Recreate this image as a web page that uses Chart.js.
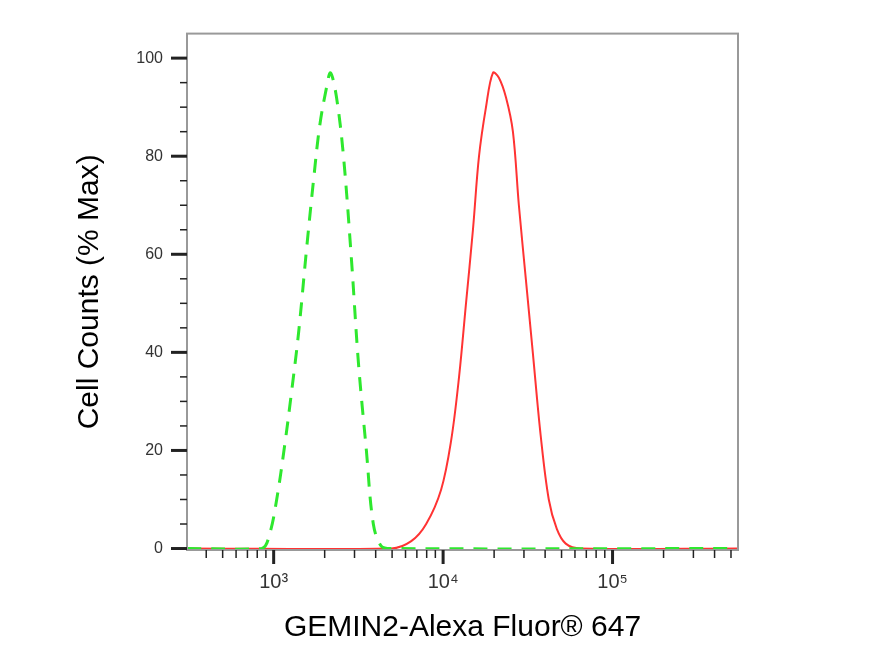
<!DOCTYPE html>
<html><head><meta charset="utf-8">
<script src="https://cdn.jsdelivr.net/npm/chart.js@4/dist/chart.umd.min.js"></script>
<style>html,body{margin:0;padding:0;background:#fff}#w{width:892px;height:650px}</style>
</head><body><div id="w"><canvas id="c"></canvas></div>
<script>
const redX=[308,4943,6486,7943,9730,11150,12420,13650,15000,16290,17910,19680,21340,23490,25820,28000,30770,33830,37670,42040,46880,52920,64860,550000];
const redY=[0,0,1.5,5,12,22,35,50,65,80,90,97,96,92,85,70,55,40,23,10,4,1,0,0];
const greenX=[308,850,947,1042,1161,1276,1403,1563,1718,1866,2051,2165,2349,2582,2877,3162,3525,3874,4315,4943,550000];
const greenY=[0,0,3,10,21,32,44,61,75,86,94,97,92,80,59,38,20,5,0.5,0,0];
const xTickLabels={1000:'10³',10000:'10⁴',100000:'10⁵'};
const yTicks=[0,20,40,60,80,100];
const toPts=(xs,ys)=>xs.map((x,i)=>({x:x,y:ys[i]}));
const marks={id:'marks',afterDraw(ch){
 const c=ch.ctx,a=ch.chartArea,xs=ch.scales.x,ys=ch.scales.y;
 c.save();c.strokeStyle='#999';c.lineWidth=2;
 c.strokeRect(a.left,a.top,a.right-a.left,a.bottom-a.top);
 c.strokeStyle='#222';
 for(let v=0;v<=100;v+=5){const y=ys.getPixelForValue(v);const maj=v%20==0;
  c.lineWidth=maj?3:1.5;c.beginPath();c.moveTo(a.left-(maj?16:7),y);c.lineTo(a.left,y);c.stroke();}
 for(let d=100;d<=1e6;d*=10)for(let m=1;m<10;m++){const v=d*m;if(v<xs.min||v>xs.max)continue;
  const x=xs.getPixelForValue(v);const maj=m==1;c.lineWidth=maj?3:1.5;
  c.beginPath();c.moveTo(x,a.bottom);c.lineTo(x,a.bottom+(maj?14:8));c.stroke();}
 c.restore();}};
new Chart(document.getElementById('c'),{type:'line',
 data:{datasets:[
  {data:toPts(greenX,greenY),borderColor:'#2ee82e',borderWidth:3,borderDash:[14,10],pointRadius:0,tension:0.35},
  {data:toPts(redX,redY),borderColor:'#ff3333',borderWidth:2,pointRadius:0,tension:0.35}]},
 options:{responsive:true,maintainAspectRatio:false,animation:false,
  layout:{padding:{left:72,right:154,top:-29,bottom:0}},
  plugins:{legend:{display:false},tooltip:{enabled:false}},
  scales:{
   x:{type:'logarithmic',min:308,max:550000,
    afterBuildTicks(s){s.ticks=[1000,10000,100000].map(v=>({value:v}));},
    afterFit(s){s.height=100;},
    grid:{display:false,drawTicks:false},border:{display:false},
    ticks:{autoSkip:false,maxRotation:0,padding:20,color:'#333',font:{family:'Liberation Sans',size:20},callback:v=>xTickLabels[v]||''},
    title:{display:true,text:'GEMIN2-Alexa Fluor® 647',color:'#000',font:{family:'Liberation Sans',size:30},padding:{top:0,bottom:4}}},
   y:{min:-0.3,max:105,
    afterBuildTicks(s){s.ticks=yTicks.map(v=>({value:v}));},
    afterFit(s){s.width=115;},
    grid:{display:false,drawTicks:false},border:{display:false},
    ticks:{padding:24,color:'#333',font:{family:'Liberation Sans',size:16}},
    title:{display:true,text:'Cell Counts (% Max)',color:'#000',font:{family:'Liberation Sans',size:30},padding:{top:0,bottom:0}}}}},
 plugins:[marks]});
</script></body></html>
